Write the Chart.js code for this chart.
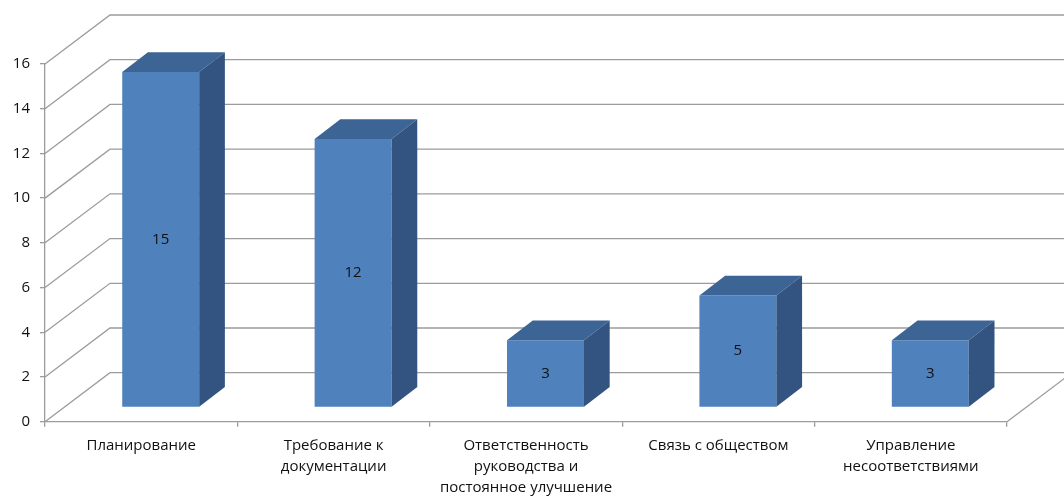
<!DOCTYPE html>
<html><head><meta charset="utf-8">
<script src="https://cdn.jsdelivr.net/npm/chart.js@4/dist/chart.umd.min.js"></script>
<style>html,body{margin:0;padding:0;background:#fff}#wrap{width:1064px;height:497px}</style>
</head><body><div id="wrap"><canvas id="c" width="1064" height="497"></canvas></div>
<script>
const categories = [
  ["Планирование"],
  ["Требование к", "документации"],
  ["Ответственность", "руководства и", "постоянное улучшение"],
  ["Связь с обществом"],
  ["Управление", "несоответствиями"]
];
const values = [15, 12, 3, 5, 3];
const yTicks = [0, 2, 4, 6, 8, 10, 12, 14, 16];

const FONT = "'Open Sans', sans-serif";
const FS = 15;
const WALL = {dx: 65, dy: -49};     // floor depth
const BAR_OFF = {dx: 19.5, dy: -14.4}; // bar front offset into depth
const BAR_D = {dx: 25.7, dy: -19.7};   // bar depth
const GRID = '#9c9c9c';

const plugin3d = {
  id: 'fake3d',
  beforeDatasetsDraw(chart) {
    const {ctx, chartArea: a, scales: {y}} = chart;
    ctx.save();
    ctx.strokeStyle = GRID; ctx.lineWidth = 1.3;
    yTicks.forEach(v => {
      const py = y.getPixelForValue(v);
      ctx.beginPath();
      ctx.moveTo(a.left, py);
      ctx.lineTo(a.left + WALL.dx, py + WALL.dy);
      ctx.lineTo(chart.width + 5, py + WALL.dy);
      ctx.stroke();
    });
    ctx.beginPath();
    ctx.moveTo(a.right, a.bottom);
    ctx.lineTo(a.right + WALL.dx, a.bottom + WALL.dy);
    ctx.stroke();
    ctx.restore();
    ctx.save();
    ctx.translate(BAR_OFF.dx, BAR_OFF.dy);
  },
  afterDatasetsDraw(chart) {
    const {ctx} = chart;
    const meta = chart.getDatasetMeta(0);
    meta.data.forEach((bar, i) => {
      const p = bar.getProps(['x', 'y', 'base', 'width'], true);
      const x1 = p.x - p.width / 2, x2 = p.x + p.width / 2;
      const yt = p.y, yb = p.base;
      ctx.fillStyle = '#3c6595';
      ctx.beginPath();
      ctx.moveTo(x1, yt); ctx.lineTo(x2, yt);
      ctx.lineTo(x2 + BAR_D.dx, yt + BAR_D.dy);
      ctx.lineTo(x1 + BAR_D.dx, yt + BAR_D.dy);
      ctx.closePath(); ctx.fill();
      ctx.fillStyle = '#335480';
      ctx.beginPath();
      ctx.moveTo(x2, yt);
      ctx.lineTo(x2 + BAR_D.dx, yt + BAR_D.dy);
      ctx.lineTo(x2 + BAR_D.dx, yb + BAR_D.dy);
      ctx.lineTo(x2, yb);
      ctx.closePath(); ctx.fill();
      ctx.fillStyle = '#111';
      ctx.font = FS + 'px ' + FONT;
      ctx.textAlign = 'center'; ctx.textBaseline = 'middle';
      ctx.fillText(String(values[i]), p.x, (yt + yb) / 2);
    });
    ctx.restore();
  }
};

new Chart(document.getElementById('c'), {
  type: 'bar',
  data: {
    labels: categories,
    datasets: [{
      data: values,
      backgroundColor: '#4f81bd',
      borderWidth: 0,
      categoryPercentage: 0.4,
      barPercentage: 1.0
    }]
  },
  options: {
    responsive: false,
    animation: false,
    devicePixelRatio: 1,
    layout: {padding: {top: 64, right: 57, left: 0, bottom: 0}},
    plugins: {legend: {display: false}, tooltip: {enabled: false}},
    scales: {
      x: {
        afterFit(s) { s.height = 75.3; },
        grid: {offset: true, drawOnChartArea: false, tickLength: 5, color: GRID, lineWidth: 1.3},
        border: {display: true, color: GRID, width: 1.3},
        ticks: {color: '#111', font: {family: FONT, size: FS, lineHeight: 1.38}, padding: 9, maxRotation: 0, autoSkip: false}
      },
      y: {
        min: 0, max: 16,
        afterFit(s) { s.width = 45; },
        afterBuildTicks(s) { s.ticks = yTicks.map(v => ({value: v})); },
        grid: {drawOnChartArea: false, tickLength: 5, color: GRID, lineWidth: 1.3},
        border: {display: true, color: GRID, width: 1.3},
        ticks: {color: '#111', font: {family: FONT, size: FS}, padding: 10}
      }
    }
  },
  plugins: [plugin3d]
});
</script>
</body></html>
